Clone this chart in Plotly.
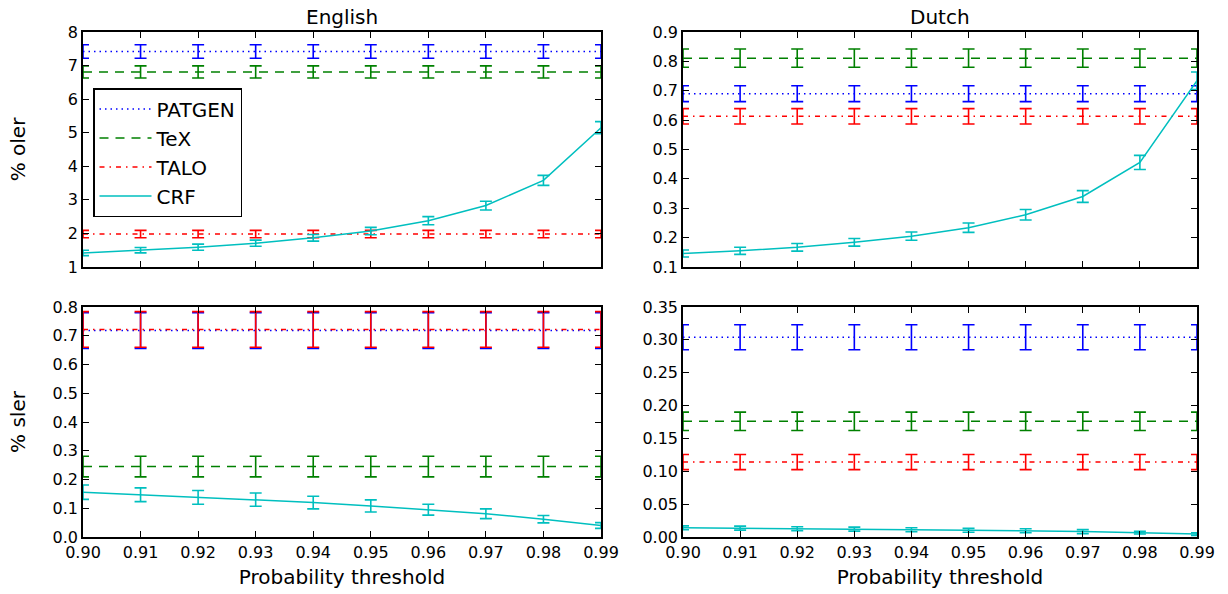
import plotly.graph_objects as go

thresholds = [0.90, 0.91, 0.92, 0.93, 0.94, 0.95, 0.96, 0.97, 0.98, 0.99]
methods = ["PATGEN", "TeX", "TALO", "CRF"]

# English, oler (%)
en_oler_patgen = [7.42] * 10
en_oler_patgen_err = [0.20] * 10
en_oler_tex = [6.81] * 10
en_oler_tex_err = [0.18] * 10
en_oler_talo = [1.98] * 10
en_oler_talo_err = [0.11] * 10
en_oler_crf = [1.42, 1.50, 1.59, 1.71, 1.87, 2.07, 2.38, 2.83, 3.58, 5.15]
en_oler_crf_err = [0.08, 0.08, 0.09, 0.09, 0.10, 0.11, 0.12, 0.13, 0.15, 0.18]

# Dutch, oler (%)
nl_oler_patgen = [0.690] * 10
nl_oler_patgen_err = [0.027] * 10
nl_oler_tex = [0.811] * 10
nl_oler_tex_err = [0.031] * 10
nl_oler_talo = [0.613] * 10
nl_oler_talo_err = [0.026] * 10
nl_oler_crf = [0.146, 0.155, 0.167, 0.184, 0.205, 0.234, 0.278, 0.340, 0.456, 0.734]
nl_oler_crf_err = [0.012, 0.012, 0.013, 0.013, 0.014, 0.016, 0.018, 0.020, 0.024, 0.030]

# English, sler (%)
en_sler_patgen = [0.718] * 10
en_sler_patgen_err = [0.062] * 10
en_sler_tex = [0.245] * 10
en_sler_tex_err = [0.036] * 10
en_sler_talo = [0.722] * 10
en_sler_talo_err = [0.062] * 10
en_sler_crf = [0.156, 0.147, 0.138, 0.130, 0.120, 0.108, 0.095, 0.081, 0.062, 0.040]
en_sler_crf_err = [0.025, 0.024, 0.024, 0.023, 0.022, 0.021, 0.019, 0.017, 0.013, 0.010]

# Dutch, sler (%)
nl_sler_patgen = [0.304] * 10
nl_sler_patgen_err = [0.019] * 10
nl_sler_tex = [0.176] * 10
nl_sler_tex_err = [0.014] * 10
nl_sler_talo = [0.114] * 10
nl_sler_talo_err = [0.0115] * 10
nl_sler_crf = [0.014, 0.0135, 0.0127, 0.012, 0.011, 0.0102, 0.0095, 0.0082, 0.0066, 0.0045]
nl_sler_crf_err = [0.003, 0.003, 0.003, 0.003, 0.003, 0.003, 0.003, 0.003, 0.002, 0.002]

colors = {"PATGEN": "#0000ff", "TeX": "#008000", "TALO": "#ff0000", "CRF": "#00bfbf"}
dashes = {"PATGEN": "1.5px,4px", "TeX": "9px,7px", "TALO": "5px,5px,1.5px,5px", "CRF": "solid"}

panels = [
    ("x", "y", [en_oler_patgen, en_oler_tex, en_oler_talo, en_oler_crf],
     [en_oler_patgen_err, en_oler_tex_err, en_oler_talo_err, en_oler_crf_err], True),
    ("x2", "y2", [nl_oler_patgen, nl_oler_tex, nl_oler_talo, nl_oler_crf],
     [nl_oler_patgen_err, nl_oler_tex_err, nl_oler_talo_err, nl_oler_crf_err], False),
    ("x3", "y3", [en_sler_patgen, en_sler_tex, en_sler_talo, en_sler_crf],
     [en_sler_patgen_err, en_sler_tex_err, en_sler_talo_err, en_sler_crf_err], False),
    ("x4", "y4", [nl_sler_patgen, nl_sler_tex, nl_sler_talo, nl_sler_crf],
     [nl_sler_patgen_err, nl_sler_tex_err, nl_sler_talo_err, nl_sler_crf_err], False),
]

fig = go.Figure()
for xa, ya, series, errs, show in panels:
    for name, vals, err in zip(methods, series, errs):
        c = colors[name]
        fig.add_trace(go.Scatter(
            x=thresholds, y=vals, name=name, mode="lines",
            xaxis=xa, yaxis=ya, showlegend=show, legendgroup=name,
            line=dict(color=c, width=1.5, dash=dashes[name]),
            error_y=dict(type="data", array=err, visible=True,
                         color=c, thickness=1.6, width=6),
            cliponaxis=True,
        ))

W, H = 1228, 594
LX = (83 / W, 601 / W)
RX = (683 / W, 1197 / W)
TY = (1 - 267 / H, 1 - 32 / H)
BY = (1 - 537 / H, 1 - 307 / H)

font_family = "DejaVu Sans"
tickfont = dict(family=font_family, size=16, color="black")
titlefont = dict(family=font_family, size=20, color="black")

def xaxis(domain, anchor, labels):
    return dict(
        domain=domain, anchor=anchor, range=[0.90, 0.99], automargin=False,
        tickvals=thresholds, ticktext=[f"{t:.2f}" for t in thresholds],
        showticklabels=labels, ticks="inside", ticklen=6, tickcolor="black",
        showline=True, linecolor="black", linewidth=1.5, mirror="ticks",
        showgrid=False, zeroline=False, tickfont=tickfont,
        title=dict(text="Probability threshold" if labels else "",
                   font=titlefont, standoff=9),
    )

def yaxis(domain, anchor, rng, dtick, fmt, title, standoff):
    return dict(
        domain=domain, anchor=anchor, range=rng, dtick=dtick, tick0=0, automargin=False,
        tickformat=fmt, ticks="inside", ticklen=6, tickcolor="black",
        showline=True, linecolor="black", linewidth=1.5, mirror="ticks",
        showgrid=False, zeroline=False, tickfont=tickfont,
        title=dict(text=title, font=titlefont, standoff=standoff),
    )

fig.update_layout(
    width=W, height=H,
    margin=dict(l=0, r=0, t=0, b=0),
    paper_bgcolor="white", plot_bgcolor="white",
    font=dict(family=font_family, color="black"),
    xaxis=xaxis(LX, "y", False),
    xaxis2=xaxis(RX, "y2", False),
    xaxis3=xaxis(LX, "y3", True),
    xaxis4=xaxis(RX, "y4", True),
    yaxis=yaxis(TY, "x", [1, 8], 1, "d", "% oler", 37),
    yaxis2=yaxis(TY, "x2", [0.1, 0.9], 0.1, ".1f", "", 22),
    yaxis3=yaxis(BY, "x3", [0, 0.8], 0.1, ".1f", "% sler", 22),
    yaxis4=yaxis(BY, "x4", [0, 0.35], 0.05, ".2f", "", 22),
    legend=dict(
        x=93 / W, y=1 - 88 / H, xanchor="left", yanchor="top",
        bgcolor="white", bordercolor="black", borderwidth=1.5,
        font=dict(family=font_family, size=20, color="black"),
        tracegroupgap=3, traceorder="normal", itemwidth=52,
    ),
    showlegend=True,
    annotations=[
        dict(text="English", x=(LX[0] + LX[1]) / 2, y=1 - 17 / H, xref="paper", yref="paper",
             showarrow=False, font=titlefont, xanchor="center", yanchor="middle"),
        dict(text="Dutch", x=(RX[0] + RX[1]) / 2, y=1 - 17 / H, xref="paper", yref="paper",
             showarrow=False, font=titlefont, xanchor="center", yanchor="middle"),
    ],
)

fig.write_html("out.html", config={"displayModeBar": False})

# remove the default browser body margin so the figure sits at the page origin
with open("out.html", "r", encoding="utf-8") as f:
    html = f.read()
html = html.replace("<body>", '<body style="margin:0;padding:0;overflow:hidden">', 1)
with open("out.html", "w", encoding="utf-8") as f:
    f.write(html)
